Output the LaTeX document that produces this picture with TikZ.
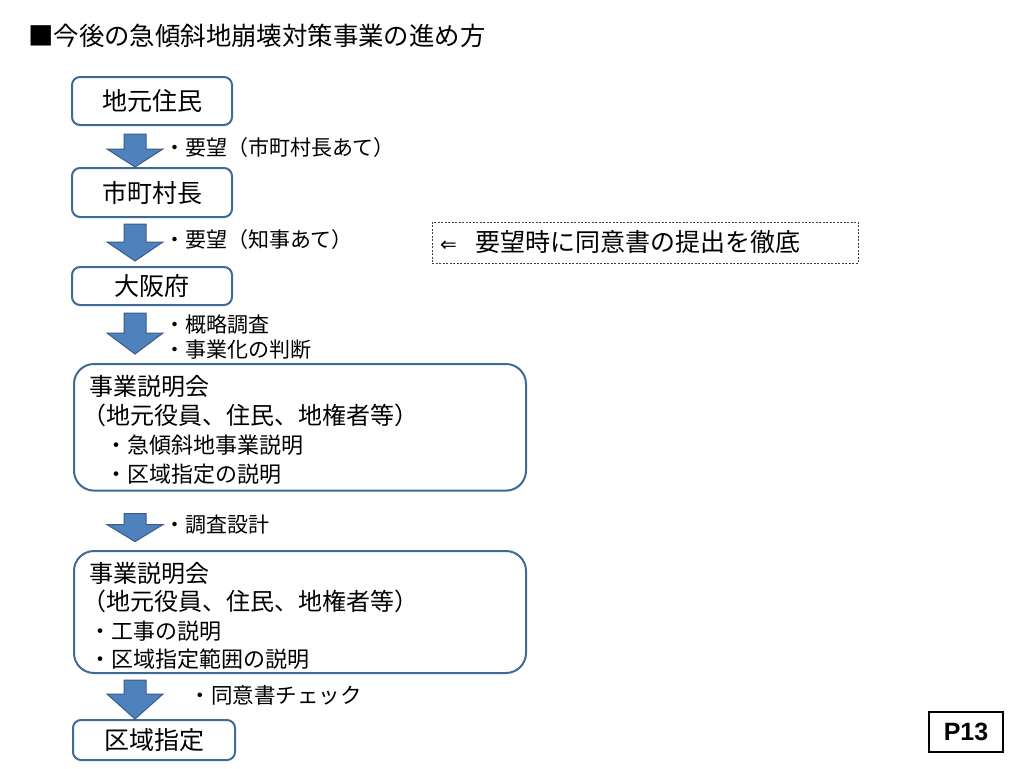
\documentclass[tikz,border=0pt]{standalone}
\usepackage{fontspec}
\newfontfamily\jp{Noto Sans CJK JP}
\newfontfamily\arrowfont{DejaVu Sans}
\newfontfamily\pagefont{Liberation Sans}
\usetikzlibrary{calc}
\definecolor{boxline}{RGB}{64,106,150}
\definecolor{arrowfill}{RGB}{79,129,189}
\definecolor{arrowline}{RGB}{56,93,138}
\tikzset{
    smallbox/.style={draw=boxline, line width=2pt, rounded corners=8pt, minimum width=160pt, inner sep=0pt, font={\jp\fontsize{25}{28}\selectfont}},
    bigbox/.style={draw=boxline, line width=2pt, rounded corners=20pt, anchor=north west, text width=422pt, inner xsep=15pt, inner ysep=0pt, align=left, font={\jp\fontsize{24}{29}\selectfont}},
    steplabel/.style={anchor=west, inner sep=0pt, align=left, font={\jp\fontsize{21}{25}\selectfont}},
    pics/blockarrow/.style 2 args={code={
        \filldraw[fill=arrowfill, draw=arrowline, line width=1pt] (-11,0) -- (11,0) -- (11,#1) -- (28,#1) -- (0,#2) -- (-28,#1) -- (-11,#1) -- cycle;
    }}
}

\begin{document}
\begin{tikzpicture}[x=1pt, y=-1pt]
    \fill[white] (0,0) rectangle (1024,768);
    \useasboundingbox (0,0) rectangle (1024,768);
    \node[anchor=west, inner sep=0pt, font={\jp\fontsize{25.4}{28}\selectfont}] (title) at (28,36) {■今後の急傾斜地崩壊対策事業の進め方};

    % boxes of the flow
    \node[smallbox, minimum height=48pt] (jimoto) at (152,101) {地元住民};
    \node[smallbox, minimum height=49pt] (shicho) at (152,192.5) {市町村長};
    \node[smallbox, minimum height=38pt] (osaka) at (152,286) {大阪府};
    \node[bigbox] (setsumei1) at (73,363) {\rule{0pt}{31pt}事業説明会\\\hspace*{-7pt}（地元役員、住民、地権者等）\\{\fontsize{22}{29}\selectfont\hspace*{16pt}・急傾斜地事業説明}\\{\fontsize{22}{29}\selectfont\hspace*{16pt}・区域指定の説明}\rule[-8.6pt]{0pt}{0pt}};
    \node[bigbox, font={\jp\fontsize{24}{28.5}\selectfont}] (setsumei2) at (73,550) {\rule{0pt}{31pt}事業説明会\\\hspace*{-7pt}（地元役員、住民、地権者等）\\{\fontsize{22}{28.5}\selectfont ・工事の説明}\\{\fontsize{22}{28.5}\selectfont ・区域指定範囲の説明}\rule[-5.5pt]{0pt}{0pt}};
    \node[smallbox, minimum width=162pt, minimum height=40pt] (kuiki) at (154,740) {区域指定};

    % block arrows between the boxes
    \coordinate (ax) at (135,0);
    \pic at ($(ax |- jimoto.south)+(0,8)$) {blockarrow={15}{33}};
    \pic at ($(ax |- shicho.south)+(0,6)$) {blockarrow={18}{37}};
    \pic at ($(ax |- osaka.south)+(0,7)$) {blockarrow={20}{41}};
    \pic at ($(ax |- setsumei1.south)+(0,22)$) {blockarrow={11}{28}};
    \pic at ($(ax |- setsumei2.south)+(0,6)$) {blockarrow={14}{39}};

    \node[steplabel] (yobo1) at (164,148) {・要望（市町村長あて）};
    \node[steplabel] (yobo2) at (164,240) {・要望（知事あて）};
    \node[steplabel] (chosa) at (164,337.5) {・概略調査\\・事業化の判断};
    \node[steplabel] (sekkei) at (164,525) {・調査設計};
    \node[steplabel, font={\jp\fontsize{21.5}{25}\selectfont}] (doisho) at (189.5,695) {・同意書チェック};

    \node[draw=black!75, dash pattern=on 2pt off 1.5pt, line width=0.9pt, minimum width=426pt, minimum height=41pt, inner xsep=8pt, text width=410pt, align=left, font={\jp\fontsize{25}{28}\selectfont}] (note) at (645,242.5) {{\arrowfont\fontsize{20}{22}\selectfont ⇐}\hspace{19pt}要望時に同意書の提出を徹底};
    \node[draw, line width=1.3pt, minimum width=74pt, minimum height=40pt, inner sep=0pt, font={\pagefont\bfseries\fontsize{25}{28}\selectfont}] (page) at (966,732) {P13};
\end{tikzpicture}
\end{document}
